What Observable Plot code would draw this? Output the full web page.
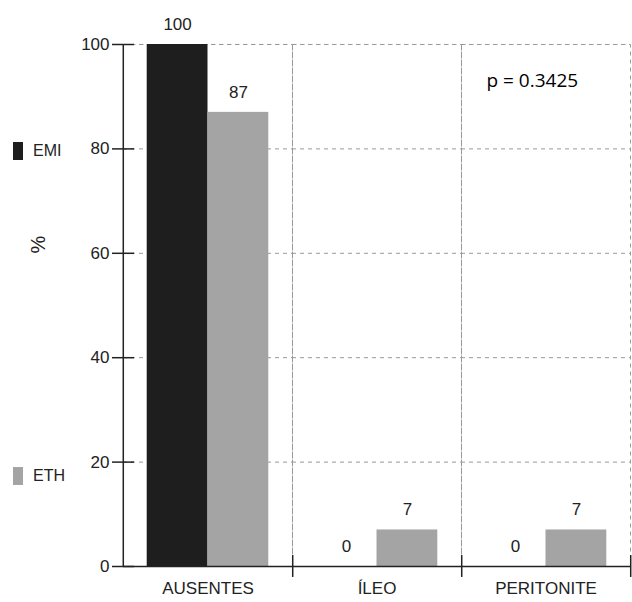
<!DOCTYPE html>
<html>
<head>
<meta charset="utf-8">
<script src="https://cdn.jsdelivr.net/npm/d3@7"></script>
<script src="https://cdn.jsdelivr.net/npm/@observablehq/plot@0.6"></script>
<style>
  html, body { margin: 0; padding: 0; background: #fff; }
  #wrap { position: relative; width: 632px; height: 602px; font-family: "Liberation Sans", Arial, sans-serif; color: #222; }
  #chart { position: absolute; left: 0; top: 0; }
  .leg { position: absolute; left: 13px; display: flex; align-items: center; font-size: 16px; }
  .sw { width: 10px; height: 18px; margin-right: 10px; }
  #ylab { position: absolute; left: 30px; top: 233px; font-size: 20px; transform: rotate(-90deg); }
</style>
</head>
<body>
<div id="wrap">
  <div id="chart"></div>
  <div id="ylab">%</div>
  <div class="leg" style="top:142px"><div class="sw" style="background:#1e1e1e"></div>EMI</div>
  <div class="leg" style="top:467px"><div class="sw" style="background:#a4a4a4"></div>ETH</div>
</div>
<script>
const categories = ["AUSENTES", "ÍLEO", "PERITONITE"];
const series = ["EMI", "ETH"];
const emiValues = [100, 0, 0];
const ethValues = [87, 7, 7];
const yTicks = [0, 20, 40, 60, 80, 100];
const pText = "p = 0.3425";

const rows = [];
categories.forEach((c, i) => {
  rows.push({category: c, series: "EMI", value: emiValues[i]});
  rows.push({category: c, series: "ETH", value: ethValues[i]});
});

const W = 632, H = 602, mL = 122, mR = 1, mT = 44, mB = 36;
const po = 0.39;
const facetW = (W - mL - mR) / categories.length;
const step = facetW / (2 + 2 * po);
const edge = step * (0.5 + po);

const plot = Plot.plot({
  width: W,
  height: H,
  marginLeft: mL,
  marginRight: mR,
  marginTop: mT,
  marginBottom: mB,
  style: {fontFamily: "'Liberation Sans', Arial, sans-serif", fontSize: "17px", color: "#222", background: "#fff"},
  fx: {domain: categories, padding: 0, label: null},
  x: {domain: series, paddingInner: 0, paddingOuter: po, round: false, axis: null},
  y: {domain: [0, 100], label: null},
  color: {domain: series, range: ["#1e1e1e", "#a4a4a4"]},
  marks: [
    Plot.gridY(yTicks, {stroke: "#999", strokeOpacity: 1, strokeDasharray: "4,4"}),
    Plot.frame({stroke: "#999", strokeDasharray: "4,4"}),
    Plot.barY(rows, {fx: "category", x: "series", y: "value", fill: "series"}),
    Plot.text(rows, {fx: "category", x: "series", y: "value", text: d => String(d.value), dy: -20, fontSize: 17, fill: "#222"}),
    Plot.ruleY([0], {stroke: "#222", strokeWidth: 1.5}),
    Plot.ruleX([categories[0]], {fx: d => d, x: () => "EMI", dx: -edge, y1: 0, y2: 100, stroke: "#222", strokeWidth: 1.5}),
    Plot.ruleX(categories, {fx: d => d, x: () => "ETH", dx: edge, y1: -2.1, y2: 2.1, stroke: "#222", strokeWidth: 1.5, clip: false}),
    Plot.axisY(yTicks, {anchor: "left", tickSize: 22, tickPadding: 3, dx: 11, label: null, fontSize: 17, stroke: "#222", strokeWidth: 1.5}),
    Plot.axisFx({anchor: "bottom", tickSize: 0, tickPadding: 15, label: null, fontSize: 17}),
    Plot.text([{category: "PERITONITE", t: pText}], {fx: "category", text: "t", frameAnchor: "top-left", textAnchor: "start", dx: 25, dy: 29, fontFamily: "'Open Sans', sans-serif", fontSize: 19, fill: "#000"})
  ]
});
document.getElementById("chart").appendChild(plot);
</script>
</body>
</html>
